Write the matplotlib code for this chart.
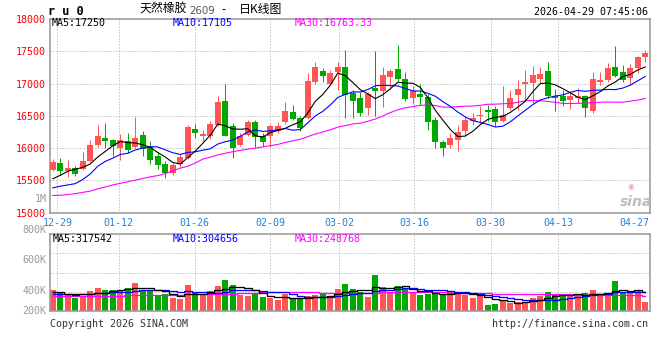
import numpy as np
import pandas as pd
import matplotlib
matplotlib.use("Agg")
import matplotlib.pyplot as plt

# ---------------- data ----------------
opens = [15667, 15774, 15651, 15697, 15677, 15795, 16041, 16159, 16128, 15995,
         16113, 16015, 16205, 16010, 15877, 15758, 15614, 15753, 15851, 16304,
         16191, 16191, 16356, 16732, 16346, 16047, 16201, 16407, 16181, 16182,
         16260, 16398, 16561, 16465, 16465, 17026, 17189, 16990, 17179, 17255,
         16847, 16771, 16618, 16934, 16888, 17102, 17219, 17077, 16781, 16837,
         16796, 16439, 16102, 16046, 16120, 16260, 16413, 16490, 16592, 16602,
         16413, 16628, 16822, 17000, 17010, 17066, 17189, 16806, 16806, 16745,
         16781, 16806, 16577, 17026, 17051, 17255, 17179, 17092, 17240, 17408]
highs = [15836, 15851, 15820, 15728, 15933, 16128, 16359, 16395, 16149, 16221,
         16241, 16487, 16272, 16118, 15934, 15805, 15769, 15908, 16356, 16371,
         16284, 16423, 16809, 16989, 16382, 16232, 16433, 16438, 16232, 16380,
         16398, 16720, 16668, 16500, 17163, 17332, 17245, 17214, 17332, 17525,
         16898, 16873, 16872, 17510, 17255, 17230, 17602, 17173, 16959, 17000,
         16837, 16480, 16133, 16235, 16362, 16500, 16541, 16653, 16668, 16653,
         16959, 16898, 17051, 17204, 17265, 17255, 17332, 16923, 16908, 16873,
         16939, 16822, 17179, 17179, 17316, 17576, 17281, 17306, 17434, 17520]
lows = [15641, 15584, 15554, 15574, 15667, 15785, 16010, 16000, 15872, 15810,
        15923, 15995, 15872, 15759, 15676, 15532, 15583, 15712, 15831, 16155,
        16114, 16140, 16346, 16181, 15841, 16026, 16181, 16011, 16026, 16019,
        16235, 16378, 16429, 16260, 16449, 17000, 17026, 16974, 16898, 16465,
        16465, 16500, 16515, 16500, 16643, 16923, 17041, 16735, 16684, 16668,
        16286, 16006, 15878, 16006, 15951, 16194, 16362, 16388, 16413, 16337,
        16398, 16592, 16592, 16730, 16704, 17000, 16771, 16582, 16653, 16602,
        16704, 16475, 16551, 16974, 17026, 17102, 17026, 16974, 17168, 17332]
closes = [15779, 15651, 15687, 15595, 15795, 16051, 16190, 16118, 16026, 16128,
          15964, 16159, 15985, 15820, 15733, 15614, 15738, 15861, 16325, 16237,
          16212, 16371, 16716, 16191, 15995, 16191, 16407, 16175, 16088, 16346,
          16347, 16582, 16449, 16306, 17036, 17255, 17112, 17163, 17255, 16822,
          16735, 16551, 16837, 16888, 17128, 17189, 17066, 16765, 16883, 16796,
          16398, 16092, 16006, 16153, 16243, 16439, 16465, 16515, 16566, 16398,
          16515, 16771, 16923, 17026, 17128, 17153, 16811, 16781, 16735, 16806,
          16806, 16628, 17077, 17061, 17240, 17117, 17051, 17240, 17408, 17469]
volumes = [345, 312, 274, 219, 230, 334, 384, 345, 345, 334,
           384, 461, 340, 334, 241, 274, 219, 203, 428, 312,
           274, 329, 411, 510, 428, 263, 252, 280, 236, 219,
           181, 274, 197, 197, 252, 258, 274, 219, 362, 444,
           362, 318, 236, 592, 395, 312, 411, 356, 318, 263,
           280, 291, 274, 329, 291, 263, 219, 252, 99, 115,
           181, 137, 148, 143, 219, 252, 312, 280, 247, 263,
           263, 296, 345, 252, 296, 493, 318, 291, 345, 154]  # thousands

# moving-average values before enough candles are in view
ma5_head = [15525, 15580, 15640, 15675]
ma10_head = [15385, 15410, 15430, 15450, 15515, 15600, 15720, 15795, 15845]
ma30_head = [15266, 15270, 15282, 15295, 15315, 15335, 15370, 15400, 15430, 15455,
             15480, 15505, 15530, 15555, 15575, 15605, 15650, 15690, 15720, 15770,
             15830, 15860, 15895, 15920, 15945, 15965, 15985, 16000, 16020]
vma5_head = [310, 305, 285, 275]
vma10_head = [275, 275, 272, 270, 272, 280, 290, 300, 305]
vma30_head = [245, 245, 245, 246, 247, 248, 249, 250, 252, 254,
              256, 258, 260, 262, 264, 266, 268, 270, 272, 274,
              276, 278, 280, 283, 286, 290, 295, 300, 306]

tick_labels = ["12-29", "01-12", "01-26", "02-09", "03-02", "03-16", "03-30", "04-13", "04-27"]
tick_pos = [0.6, 8.8, 18.9, 29.0, 38.2, 48.2, 58.4, 67.4, 77.5]
grid_count = 8  # last label has no grid line
price_ticks = [15000, 15500, 16000, 16500, 17000, 17500, 18000]
vol_tick_labels = ["1M", "800K", "600K", "400K", "200K"]
ma_price_text = ["MA5:17250", "MA10:17105", "MA30:16763.33"]
ma_vol_text = ["MA5:317542", "MA10:304656", "MA30:248768"]

# ---------------- figure ----------------
W, H = 660, 360
fig = plt.figure(figsize=(6.6, 3.6), dpi=100)
fig.patch.set_facecolor("white")
MONO = "DejaVu Sans Mono"
FS = 7.2
PX = 0.72  # one pixel in points
RED = "#ff5555"
GREEN = "#00a800"
GRID = "#a8a8a8"
SPINE = "#9a9a9a"


def fx(x):
    return x / W


def fy(y):
    return 1 - y / H


ax = fig.add_axes([fx(50), fy(212.7), fx(650) - fx(50), fy(19) - fy(212.7)])
axv = fig.add_axes([fx(50), fy(311), fx(650) - fx(50), fy(234.3) - fy(311)])

n = len(closes)
idx = np.arange(n)
o = np.array(opens, float)
c = np.array(closes, float)
h = np.array(highs, float)
l = np.array(lows, float)
up = c >= o
cols = np.where(up, RED, GREEN)


def with_head(series, window, head):
    m = pd.Series(series).rolling(window).mean().to_numpy()
    m[:window - 1] = head
    return m


ma5 = with_head(closes, 5, ma5_head)
ma10 = with_head(closes, 10, ma10_head)
ma30 = with_head(closes, 30, ma30_head)
v = np.array(volumes, float) * 1000
vma5 = with_head(v, 5, np.array(vma5_head) * 1000)
vma10 = with_head(v, 10, np.array(vma10_head) * 1000)
vma30 = with_head(v, 30, np.array(vma30_head) * 1000)

xlim = (-0.373, 79.627)

# grid lines
for a in (ax, axv):
    for p in tick_pos[:grid_count]:
        a.axvline(p, color=GRID, lw=PX, ls=(0, (1, 2)), zorder=0)
for p in price_ticks[1:-1]:
    ax.axhline(p, color=GRID, lw=PX, ls=(0, (1, 2)), zorder=0)

# candles
ax.vlines(idx, l, h, colors=cols, lw=PX * 1.0, zorder=2)
body = np.maximum(np.abs(c - o), 12)
ax.bar(idx, body, bottom=np.minimum(o, c), width=0.8, color=cols, lw=0, zorder=3)

ax.plot(idx, ma30, color="#ff00ff", lw=PX * 1.1, zorder=4)
ax.plot(idx, ma10, color="#0000ff", lw=PX * 1.1, zorder=4)
ax.plot(idx, ma5, color="#000000", lw=PX * 1.1, zorder=4)

ax.set_xlim(*xlim)
ax.set_ylim(15000, 18000)
ax.set_yticks(price_ticks)
ax.set_yticklabels([str(t) for t in price_ticks], color="#ff0000", fontsize=FS, family=MONO)
ax.set_xticks(tick_pos)
ax.set_xticklabels(tick_labels, color="#2a80d2", fontsize=FS, family=MONO)
ax.tick_params(length=0, pad=3.2)
ax.tick_params(axis="x", pad=3.6)

# volume
axv.bar(idx, v, width=0.8, color=cols, lw=0, zorder=2)
axv.plot(idx, vma30, color="#ff00ff", lw=PX * 1.3, drawstyle="steps-mid", zorder=3)
axv.plot(idx, vma10, color="#0000ff", lw=PX * 1.3, drawstyle="steps-mid", zorder=3)
axv.plot(idx, vma5, color="#000000", lw=PX * 1.3, drawstyle="steps-mid", zorder=3)
axv.set_xlim(*xlim)
vtop = 1.262e6
axv.set_ylim(0, vtop)
axv.set_xticks([])
axv.set_yticks([])
for q in (0.25, 0.5, 0.75):
    axv.axhline(vtop * q, color=GRID, lw=PX, ls=(0, (1, 2)), zorder=0)

for a in (ax, axv):
    for s in a.spines.values():
        s.set_color(SPINE)
        s.set_linewidth(PX * 1.6)
    a.set_facecolor("white")

# volume axis labels (placed as in reference)
for lab, yy in zip(vol_tick_labels, [199.3, 230, 260, 290.7, 311]):
    fig.text(fx(46.7), fy(yy), lab, ha="right", va="center", fontsize=FS,
             family=MONO, color="#9a9a9a")

# MA legends
for t, xx, col in zip(ma_price_text, [52, 173, 295], ["#000000", "#0000ff", "#ff00ff"]):
    fig.text(fx(xx), fy(23.5), t, ha="left", va="center", fontsize=FS, family=MONO, color=col)
for t, xx, col in zip(ma_vol_text, [53, 173, 295], ["#000000", "#0000ff", "#ff00ff"]):
    fig.text(fx(xx), fy(239), t, ha="left", va="center", fontsize=FS, family=MONO, color=col)

# header
fig.text(fx(48.5), fy(11.7), "r u 0", ha="left", va="center", fontsize=8.6,
         family=MONO, weight="bold", color="black")
CJK = ["Noto Sans CJK SC", "DejaVu Sans"]
fig.text(fx(140), fy(9.5), "天然橡胶", ha="left", va="center", fontsize=8.6, family=CJK, color="black")
fig.text(fx(189), fy(10.5), "2609", ha="left", va="center", fontsize=7.4, family="DejaVu Sans", color="#555555")
fig.text(fx(221), fy(9.5), "-", ha="left", va="center", fontsize=8.6, family=CJK, color="black")
fig.text(fx(239), fy(9.5), "日K线图", ha="left", va="center", fontsize=8.6, family=CJK, color="black")
fig.text(fx(648), fy(11.7), "2026-04-29 07:45:06", ha="right", va="center", fontsize=FS,
         family=MONO, color="black")

# footer
fig.text(fx(50), fy(324), "Copyright 2026 SINA.COM", ha="left", va="center", fontsize=FS,
         family=MONO, color="#333333")
fig.text(fx(648), fy(324), "http://finance.sina.com.cn", ha="right", va="center", fontsize=FS,
         family=MONO, color="#333333")

# sina watermark
fig.text(fx(636), fy(202.5), "sina", ha="center", va="center", fontsize=10,
         weight="bold", style="italic", family="DejaVu Sans", color="#bdbdbd")
fig.text(fx(631), fy(186.5), "◉", ha="center", va="center", fontsize=5.5,
         family="DejaVu Sans", color="#f0a8a8")

fig.savefig("out.png", dpi=100, facecolor="white")
